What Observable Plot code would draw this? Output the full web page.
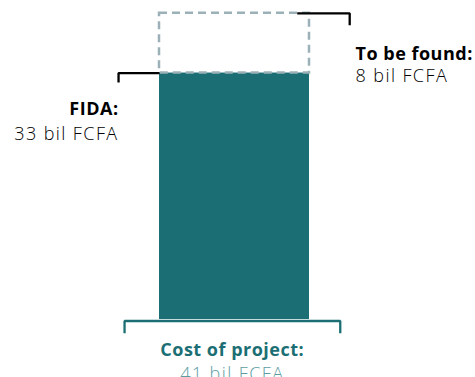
<!DOCTYPE html>
<html><head><meta charset="utf-8">
<script src="https://cdn.jsdelivr.net/npm/d3@7"></script>
<script src="https://cdn.jsdelivr.net/npm/@observablehq/plot@0.6"></script>
<style>
body{margin:0;background:#fff;overflow:hidden} svg{display:block}
g[font-weight="700"] text{letter-spacing:0.5px}
g[font-weight="300"] text{letter-spacing:1.4px}
</style>
</head><body><div id="chart"></div>
<script>
// Data
const sources = ["FIDA:", "To be found:"];
const amounts = [33, 8];
const amountLabels = ["33 bil FCFA", "8 bil FCFA"];
const totalTitle = "Cost of project:";
const totalLabel = "41 bil FCFA";

const total = d3.sum(amounts);
const teal = "#1b6f74";
const lightTeal = "#5c9da2";
const dashGrey = "#9cb1b7";
const font = "'Open Sans', sans-serif";

// stacked segments
const segs = [
  {name: sources[0], y1: 0, y2: amounts[0]},
  {name: sources[1], y1: amounts[0], y2: total}
];

const boldStyle = {fontSize: 18, fontWeight: 700};
const lightStyle = {fontSize: 18, fontWeight: 300};

const chart = Plot.plot({
  width: 475,
  height: 377,
  margin: 0,
  style: {fontFamily: font, background: "#fff", overflow: "visible"},
  x: {domain: [-159/150, 316/150], range: [0, 475], axis: null},
  y: {domain: [0, total], range: [319, 12.8], axis: null},
  marks: [
    // funded bar
    Plot.rect([segs[0]], {x1: 0, x2: 1, y1: "y1", y2: "y2", fill: teal}),
    // unfunded dashed box
    Plot.rect([segs[1]], {x1: 0, x2: 1, y1: "y1", y2: "y2", fill: "none", stroke: dashGrey, strokeWidth: 2.5, strokeDasharray: "8,5"}),
    // left bracket (FIDA)
    Plot.line([[-0.273, segs[0].y2 - 1.25], [-0.273, segs[0].y2], [0, segs[0].y2]], {stroke: "#000", strokeWidth: 2.3, strokeLinejoin: "miter", strokeLinecap: "butt"}),
    // right bracket (To be found)
    Plot.line([[0.918, total], [1.268, total], [1.268, total - 1.6]], {stroke: "#000", strokeWidth: 2.3, strokeLinejoin: "miter", strokeLinecap: "butt"}),
    // bottom bracket (total)
    Plot.line([[-0.233, -1.85], [-0.233, -0.2], [1.205, -0.2], [1.205, -1.85]], {stroke: teal, strokeWidth: 2.3, strokeLinejoin: "miter", strokeLinecap: "butt"}),
    // FIDA labels
    Plot.text([segs[0]], {x: -0.273, y: "y2", text: () => sources[0], textAnchor: "end", lineAnchor: "bottom", dy: 42, fill: "#000", ...boldStyle}),
    Plot.text([segs[0]], {x: -0.273, y: "y2", text: () => amountLabels[0], textAnchor: "end", lineAnchor: "bottom", dy: 67, fill: "#000", ...lightStyle}),
    // To be found labels
    Plot.text([segs[1]], {x: 1.307, y: "y2", text: () => sources[1], textAnchor: "start", lineAnchor: "bottom", dy: 47, fill: "#000", ...boldStyle}),
    Plot.text([segs[1]], {x: 1.307, y: "y2", text: () => amountLabels[1], textAnchor: "start", lineAnchor: "bottom", dy: 69, fill: "#000", ...lightStyle}),
    // total labels
    Plot.text([total], {x: 0.485, y: 0, text: () => totalTitle, textAnchor: "middle", lineAnchor: "bottom", dy: 36, fill: teal, ...boldStyle}),
    Plot.text([total], {x: 0.485, y: 0, text: () => totalLabel, textAnchor: "middle", lineAnchor: "bottom", dy: 60, fill: lightTeal, ...lightStyle})
  ]
});
document.getElementById("chart").appendChild(chart);
</script>
</body></html>
